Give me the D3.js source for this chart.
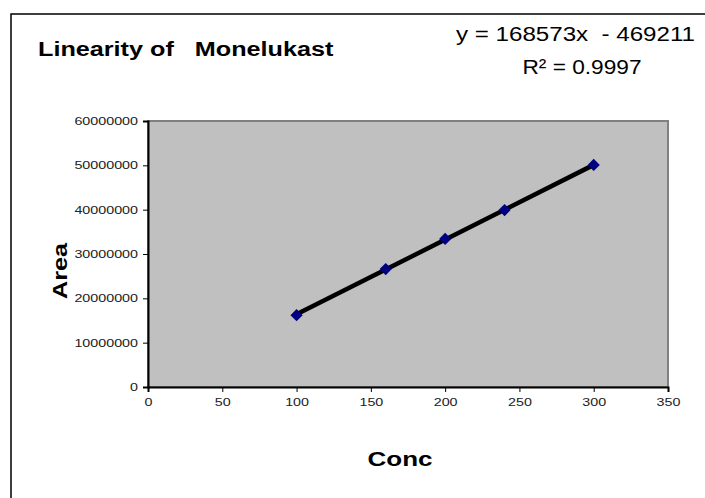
<!DOCTYPE html>
<html>
<head>
<meta charset="utf-8">
<script src="https://cdn.jsdelivr.net/npm/d3@7/dist/d3.min.js"></script>
<style>
html,body{margin:0;padding:0;background:#fff;}
svg{display:block;}
text{font-family:Arial,"Liberation Sans",sans-serif;}
</style>
</head>
<body>
<script>
const conc = [100, 160, 200, 240, 300];
const area = [16200000, 26600000, 33400000, 39900000, 50100000];
const slope = 168573, intercept = -469211;
const xTicks = [0, 50, 100, 150, 200, 250, 300, 350];
const yTicks = [0, 10000000, 20000000, 30000000, 40000000, 50000000, 60000000];
const title = "Linearity of   Monelukast";
const eqText = "y = 168573x  - 469211";
const r2Text = "R\u00b2 = 0.9997";

const W = 705, H = 498;
const SX = 1.3;
const svg = d3.select("body").append("svg").attr("width", W).attr("height", H);

svg.append("rect").attr("x", 11).attr("y", 14).attr("width", W).attr("height", H)
  .attr("fill", "#fff").attr("stroke", "#000").attr("stroke-width", 1.5);

const L = 148, R = 668, T = 121, B = 387;
const x = d3.scaleLinear().domain([0, 350]).range([L, R]);
const y = d3.scaleLinear().domain([0, 60000000]).range([B, T]);

svg.append("rect").attr("x", L).attr("y", T).attr("width", R - L).attr("height", B - T)
  .attr("fill", "#c0c0c0").attr("stroke", "#808080").attr("stroke-width", 2);

const yAxis = svg.append("g").attr("transform", `translate(${L},0)`)
  .call(d3.axisLeft(y).tickValues(yTicks).tickSize(5).tickPadding(4).tickFormat(d3.format("d")));
const xAxis = svg.append("g").attr("transform", `translate(0,${B})`)
  .call(d3.axisBottom(x).tickValues(xTicks).tickSize(5).tickPadding(6).tickFormat(d3.format("d")));
[yAxis, xAxis].forEach(g => {
  g.select(".domain").attr("stroke", "#000").attr("stroke-width", 2);
  g.selectAll(".tick line").attr("stroke", "#000");
  g.selectAll(".tick text").attr("font-size", 11).attr("fill", "#222")
    .attr("font-family", "Arial, 'Liberation Sans', sans-serif");
});
yAxis.selectAll(".tick text").attr("x", -10 / SX).attr("transform", `scale(${SX},1)`);
xAxis.selectAll(".tick text").attr("transform", `scale(${SX},1)`);

svg.append("line")
  .attr("x1", x(conc[0])).attr("y1", y(slope * conc[0] + intercept))
  .attr("x2", x(conc[conc.length - 1])).attr("y2", y(slope * conc[conc.length - 1] + intercept))
  .attr("stroke", "#000").attr("stroke-width", 4.5);

svg.append("g").selectAll("path").data(conc.map((c, i) => [c, area[i]])).join("path")
  .attr("transform", d => `translate(${x(d[0])},${y(d[1])})`)
  .attr("d", d3.symbol(d3.symbolDiamond2, 95))
  .attr("fill", "#000080");

function stretched(tx, ty, sx, anchor) {
  return svg.append("text").attr("transform", `translate(${tx},${ty}) scale(${sx},1)`)
    .attr("text-anchor", anchor).style("white-space", "pre");
}
stretched(38, 56, 1.2, "start").attr("font-size", 21).attr("font-weight", "bold").text(title);
stretched(456, 41, 1.15, "start").attr("font-size", 21).text(eqText);
stretched(582, 74, 1.08, "middle").attr("font-size", 21).text(r2Text);

svg.append("text").attr("transform", `translate(67,${271}) rotate(-90) scale(1.2,1)`).attr("text-anchor", "middle")
  .attr("font-size", 21).attr("font-weight", "bold").text("Area");
stretched(400, 466, 1.3, "middle").attr("font-size", 20).attr("font-weight", "bold").text("Conc");
</script>
</body>
</html>
